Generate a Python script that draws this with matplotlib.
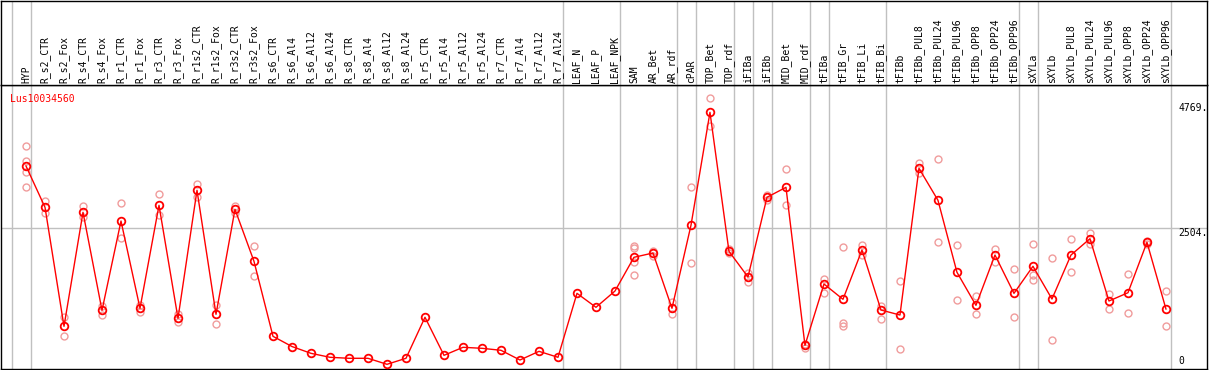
import matplotlib
matplotlib.use('Agg')
import matplotlib.pyplot as plt

# sample names, left to right
samples = ['HYP', 'R_s2_CTR', 'R_s2_Fox', 'R_s4_CTR', 'R_s4_Fox', 'R_r1_CTR', 'R_r1_Fox',
           'R_r3_CTR', 'R_r3_Fox', 'R_r1s2_CTR', 'R_r1s2_Fox', 'R_r3s2_CTR', 'R_r3s2_Fox',
           'R_s6_CTR', 'R_s6_Al4', 'R_s6_Al12', 'R_s6_Al24', 'R_s8_CTR', 'R_s8_Al4',
           'R_s8_Al12', 'R_s8_Al24', 'R_r5_CTR', 'R_r5_Al4', 'R_r5_Al12', 'R_r5_Al24',
           'R_r7_CTR', 'R_r7_Al4', 'R_r7_Al12', 'R_r7_Al24', 'LEAF_N', 'LEAF_P', 'LEAF_NPK',
           'SAM', 'AR_Bet', 'AR_rdf', 'cPAR', 'TOP_Bet', 'TOP_rdf', 'iFIBa', 'iFIBb',
           'MID_Bet', 'MID_rdf', 'tFIBa', 'tFIB_Gr', 'tFIB_Li', 'tFIB_Bi', 'tFIBb',
           'tFIBb_PUL8', 'tFIBb_PUL24', 'tFIBb_PUL96', 'tFIBb_OPP8', 'tFIBb_OPP24',
           'tFIBb_OPP96', 'sXYLa', 'sXYLb', 'sXYLb_PUL8', 'sXYLb_PUL24', 'sXYLb_PUL96',
           'sXYLb_OPP8', 'sXYLb_OPP24', 'sXYLb_OPP96']

# mean expression
means = [3633, 2885, 728, 2794, 1018, 2636, 1055, 2921, 873, 3193, 946, 2848, 1906,
         547, 362, 239, 167, 149, 149, 40, 149, 892, 203, 348, 330, 294, 118, 275, 167,
         1326, 1073, 1368, 1979, 2057, 1055, 2559, 4606, 2087, 1622, 3066, 3247, 384,
         1495, 1218, 2111, 1024, 933, 3591, 3012, 1707, 1109, 2020, 1326, 1816, 1223,
         2020, 2316, 1187, 1337, 2251, 1042]

# replicate values
reps = [[3995, 3724, 3524, 3253], [2999, 2787], [902, 547], [2908, 2714], [1102, 933],
        [2957, 2323], [1114, 988], [3120, 2745], [946, 806], [3301, 3071], [1114, 765],
        [2914, 2787], [2183, 1634],
        [], [], [], [], [], [], [], [], [], [], [], [], [], [], [], [], [], [], [],
        [2189, 2156, 1899, 1653], [2098, 2008], [1174, 946], [3247, 1870], [4865, 4352],
        [2129, 2062], [1700, 1531], [3108, 3017], [3573, 2921], [408, 341], [1591, 1326],
        [2160, 788, 734], [2202, 2020], [1102, 861], [1549, 312], [3682, 3501],
        [3754, 2251], [2196, 1200], [1272, 946], [2129, 1899], [1761, 892],
        [2220, 1663, 1562], [1961, 475], [2305, 1707], [2414, 2220], [1314, 1047],
        [1671, 964], [2279, 2220], [1368, 728]]

# group separators sit just right of these samples
separators = [-1, 0, 28, 31, 34, 35, 37, 38, 39, 41, 42, 45, 52, 53, 60]
gene = 'Lus10034560'
ymax_label = 4769
ymid_label = 2504

W, H = 1209, 370
fig = plt.figure(figsize=(W / 100, H / 100), dpi=100)
ax = fig.add_axes([1 / W, 1 / H, 1206 / W, 284 / H])
hx = fig.add_axes([1 / W, 285 / H, 1206 / W, 84.5 / H])

for a in (ax, hx):
    a.set_xlim(-1.316, 62.16)
    a.set_xticks([])
    a.set_yticks([])
    for s in a.spines.values():
        s.set_color('black')
        s.set_linewidth(1)
    for s in separators:
        a.axvline(s + 0.25, color='#c0c0c0', lw=1, zorder=0)

ax.set_ylim(-45, 5101)
hx.set_ylim(0, 84)

ax.axhline(ymid_label, color='#c0c0c0', lw=1, zorder=0)

mono = 'DejaVu Sans Mono'

for i, name in enumerate(samples):
    hx.text(i, 1.5, name, rotation=90, ha='center', va='bottom', fontsize=7, family=mono)

for i, rs in enumerate(reps):
    if rs:
        ax.plot([i] * len(rs), rs, 'o', mfc='none', mec='#f09c9c', ms=5, mew=1, zorder=2)

x = list(range(len(samples)))
ax.plot(x, means, '-', color='red', lw=1, zorder=3)
ax.plot(x, means, 'o', mfc='none', mec='red', ms=5.5, mew=1.3, zorder=4)

ax.text(-0.842, 4938, gene, color='red', ha='left', va='top', fontsize=7, family=mono)
ax.text(60.65, ymax_label, '%d.' % ymax_label, ha='left', va='top', fontsize=7, family=mono)
ax.text(60.65, ymid_label, '%d.' % ymid_label, ha='left', va='top', fontsize=7, family=mono)
ax.text(60.65, 5, '0', ha='left', va='bottom', fontsize=7, family=mono)

fig.savefig('out.png', dpi=100)
